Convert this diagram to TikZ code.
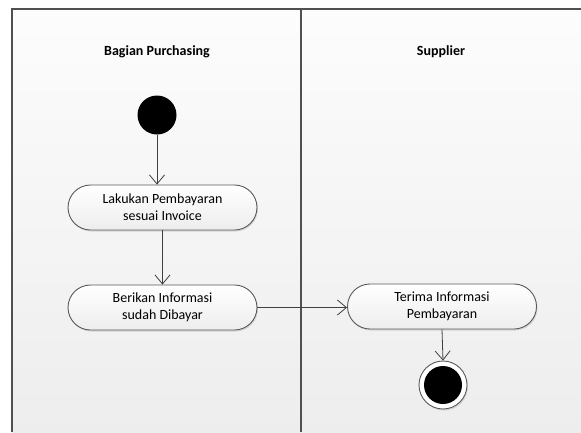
\documentclass[tikz,border=0pt]{standalone}
\usepackage{fontspec}
\setmainfont{Carlito}
\usetikzlibrary{arrows.meta,shadows}
\definecolor{laneline}{HTML}{505050}
\definecolor{flowline}{HTML}{404040}
\definecolor{boxline}{HTML}{5A5A5A}
\begin{document}
\begin{tikzpicture}[x=1pt,y=-1pt,
  lanetitle/.style={font=\fontsize{14}{16}\selectfont\bfseries},
  activity/.style={draw=boxline,line width=0.9pt,rounded corners=22.5pt,
    top color=white,bottom color=white!93!black,
    minimum width=189pt,minimum height=45pt,align=center,inner sep=2pt,
    font=\fontsize{14}{17}\selectfont,
    drop shadow={shadow xshift=1pt,shadow yshift=-1.5pt,opacity=0.25}},
  startnode/.style={circle,fill=black,minimum size=39pt,inner sep=0pt},
  endouter/.style={circle,draw=boxline,line width=0.9pt,fill=white,minimum size=48pt,inner sep=0pt,
    drop shadow={shadow xshift=1pt,shadow yshift=-1.5pt,opacity=0.25}},
  endinner/.style={circle,fill=black,minimum size=38pt,inner sep=0pt},
  flow/.style={draw=flowline,line width=0.8pt,-{Straight Barb[length=9pt,width=15pt,line width=0.8pt]}}]
\useasboundingbox (0,0) rectangle (581,432);
% swimlane background and borders
\shade[top color=white!99!black,bottom color=white!93!black] (12,9) rectangle (581,432);
\draw[laneline,line width=1.1pt] (12,432) -- (12,9) -- (581,9);
\draw[laneline,line width=1.1pt] (301,9) -- (301,432);
% lane titles
\node[lanetitle] (lane1) at (157,52) {Bagian Purchasing};
\node[lanetitle] (lane2) at (441,52) {Supplier};
% activities
\node[startnode] (start) at (157,115) {};
\node[activity] (bayar) at (162.5,207.5) {Lakukan Pembayaran\\sesuai Invoice};
\node[activity] (info) at (162.5,307.5) {Berikan Informasi\\sudah Dibayar};
\node[activity] (terima) at (442,306.5) {Terima Informasi\\Pembayaran};
\node[endouter] (endo) at (443,385) {};
\node[endinner] (end) at (443,385) {};
% control flows
\draw[flow] (start.south) -- (start.south |- bayar.north);
\draw[flow] (bayar.south) -- (info.north);
\draw[flow] (info.east) -- (terima.west |- info.east);
\draw[flow] (terima.south) -- (endo.north);
\end{tikzpicture}
\end{document}
